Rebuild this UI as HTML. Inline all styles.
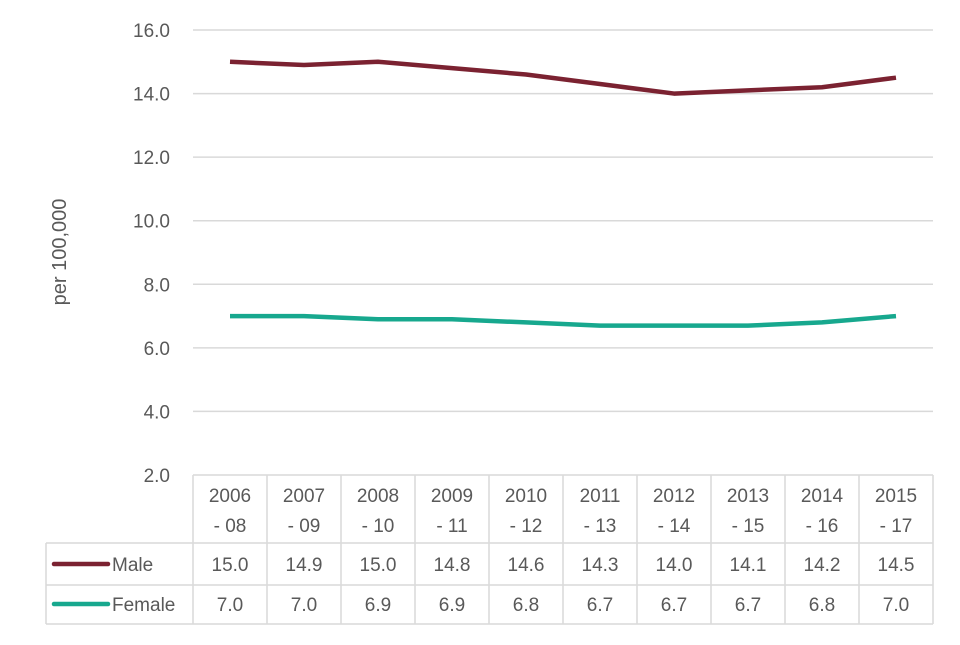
<!DOCTYPE html>
<html><head><meta charset="utf-8"><style>
body{margin:0;background:#fff;width:960px;height:640px;overflow:hidden}
svg text{font-family:"Liberation Sans",sans-serif;fill:#595959}
</style></head><body>
<svg id="c" width="960" height="640"></svg>
<script>
const categories=["2006|- 08","2007|- 09","2008|- 10","2009|- 11","2010|- 12","2011|- 13","2012|- 14","2013|- 15","2014|- 16","2015|- 17"];
const maleValues=[15.0,14.9,15.0,14.8,14.6,14.3,14.0,14.1,14.2,14.5];
const femaleValues=[7.0,7.0,6.9,6.9,6.8,6.7,6.7,6.7,6.8,7.0];
const yTicks=[2,4,6,8,10,12,14,16];
const svg=document.getElementById('c');
const NS='http://www.w3.org/2000/svg';
const x0=193,colW=74,yTop=30,yBot=475,yMin=2,yMax=16,FS=19;
const xS=i=>x0+colW*(i+0.5);
const yS=v=>yBot-(v-yMin)/(yMax-yMin)*(yBot-yTop);
function mk(t,a,txt){const e=document.createElementNS(NS,t);for(const k in a)e.setAttribute(k,a[k]);if(txt!==undefined)e.textContent=txt;svg.appendChild(e);return e;}
yTicks.forEach(v=>{
 if(v>yMin){const g=mk('line',{x1:x0,x2:x0+colW*10,y1:yS(v),y2:yS(v),stroke:'#d9d9d9','stroke-width':1.5});
 
 }
 const t=mk('text',{x:170,y:yS(v)+7,'text-anchor':'end','font-size':FS},v.toFixed(1));
 
 
});
const yt=mk('text',{x:0,y:0,'font-size':20,'text-anchor':'middle',transform:'translate(66,252) rotate(-90)'},'per 100,000');


const bc='#d9d9d9';
function ln(a,b,c,d){const l=mk('line',{x1:a,y1:b,x2:c,y2:d,stroke:bc,'stroke-width':1.5});}
ln(x0,475,x0+colW*10,475);
ln(46,543,x0+colW*10,543);ln(46,585,x0+colW*10,585);ln(46,624,x0+colW*10,624);
ln(46,543,46,624);
for(let i=0;i<=10;i++)ln(x0+colW*i,475,x0+colW*i,624);
categories.forEach((c,i)=>{
 const p=c.split('|');
 const a=mk('text',{x:xS(i),y:502,'text-anchor':'middle','font-size':FS},p[0]);
 
 
 const b=mk('text',{x:xS(i),y:532,'text-anchor':'middle','font-size':FS},p[1]);
 
 
 const m=mk('text',{x:xS(i),y:571,'text-anchor':'middle','font-size':FS},maleValues[i].toFixed(1));
 
 
 const f=mk('text',{x:xS(i),y:611,'text-anchor':'middle','font-size':FS},femaleValues[i].toFixed(1));
 
 
});
const series=[['male',maleValues,'#7b2231',564,'Male'],['female',femaleValues,'#17a88e',604,'Female']];
series.forEach(s=>{
 const p=mk('polyline',{points:s[1].map((v,i)=>xS(i)+','+yS(v)).join(' '),fill:'none',stroke:s[2],'stroke-width':4.5,'stroke-linejoin':'round'});
 
 
 const k=mk('line',{x1:54,x2:108,y1:s[3],y2:s[3],stroke:s[2],'stroke-width':4.5,'stroke-linecap':'round'});
 
 
 const t=mk('text',{x:112,y:s[3]+7,'font-size':FS},s[4]);
 
 
});
</script>
</body></html>
